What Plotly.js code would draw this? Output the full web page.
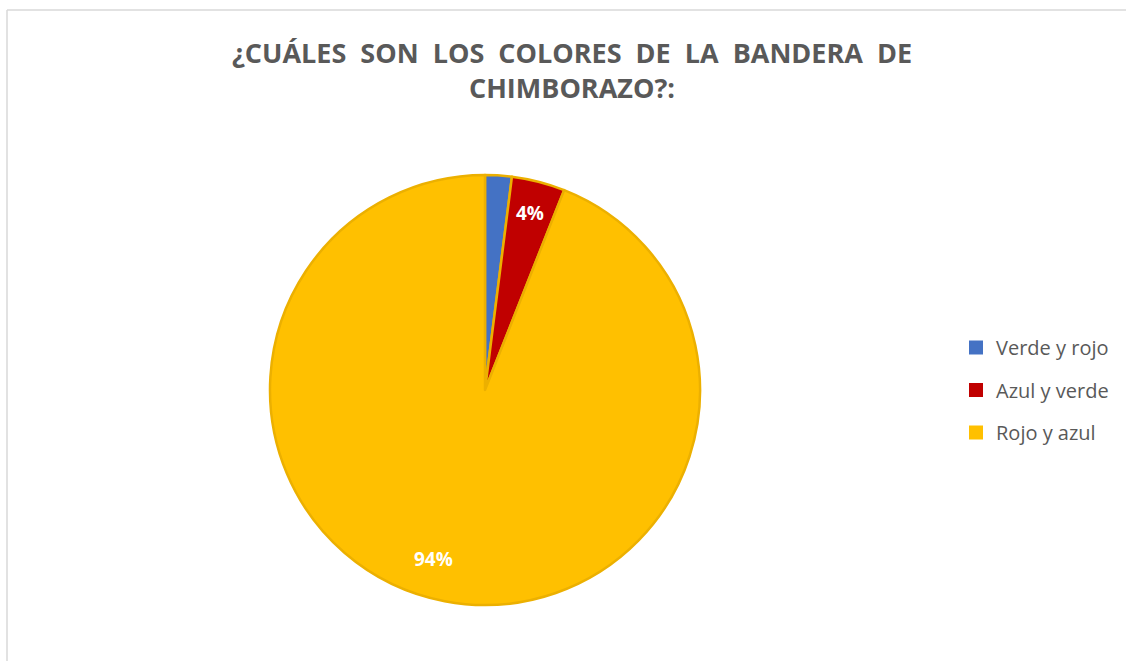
<!DOCTYPE html>
<html>
<head>
<meta charset="utf-8">
<script src="https://cdn.plot.ly/plotly-3.0.1.min.js"></script>
<style>html,body{margin:0;padding:0;background:#fff}#chart{width:1126px;height:661px}</style>
</head>
<body>
<div id="chart"></div>
<script>
const categories = ['Verde y rojo', 'Azul y verde', 'Rojo y azul'];
const values = [2, 4, 94];
const sliceLabels = ['', '4%', '94%'];
const colors = ['#4472C4', '#C00000', '#FFC000'];
const chartTitle = '¿CUÁLES  SON  LOS  COLORES  DE  LA  BANDERA  DE<br>CHIMBORAZO?:';

const W = 1126, H = 661;
const cx = 485, cy = 390, r = 215;
const fontFam = 'Open Sans, Liberation Sans, sans-serif';

const pieTrace = {
  type: 'pie',
  labels: categories,
  values: values,
  sort: false,
  direction: 'clockwise',
  rotation: 0,
  textinfo: 'none',
  marker: {colors: colors, line: {color: '#ECB000', width: 2.5}},
  hoverinfo: 'none',
  showlegend: false,
  domain: {x: [(cx - r) / W, (cx + r) / W], y: [1 - (cy + r) / H, 1 - (cy - r) / H]}
};

// legend entries (one per category, separate groups for spacing)
const legendTraces = categories.map((c, i) => ({
  type: 'scatter', mode: 'markers', x: [null], y: [null],
  name: c, legendgroup: 'g' + i,
  marker: {symbol: 'square', size: 14, color: colors[i]},
  hoverinfo: 'none', showlegend: true
}));

// data labels placed along each slice's bisector
const total = values.reduce((a, b) => a + b, 0);
const annotations = [];
let cum = 0;
values.forEach((v, i) => {
  const mid = (cum + v / 2) / total * 2 * Math.PI;
  cum += v;
  if (!sliceLabels[i]) return;
  const f = i === 2 ? 0.82 : 0.85;
  const shift = i === 2 ? 0.11 : 0;
  const px = cx + Math.sin(mid + shift) * r * f;
  const py = cy - Math.cos(mid + shift) * r * f;
  annotations.push({
    xref: 'paper', yref: 'paper', x: px / W, y: 1 - py / H,
    text: sliceLabels[i], showarrow: false, xanchor: 'center', yanchor: 'middle',
    font: {family: fontFam, size: 19, color: '#ffffff', weight: 'bold'}
  });
});

const layout = {
  width: W, height: H,
  margin: {l: 0, r: 0, t: 0, b: 0},
  paper_bgcolor: '#ffffff',
  plot_bgcolor: 'rgba(0,0,0,0)',
  xaxis: {visible: false, domain: [0.98, 1]},
  yaxis: {visible: false, domain: [0.98, 1]},
  title: {
    text: chartTitle,
    x: 0.508, xanchor: 'center',
    y: 1 - 63 / H, yanchor: 'middle',
    font: {family: fontFam, size: 27, color: '#595959', weight: 'bold'}
  },
  showlegend: true,
  legend: {
    x: 956 / W, xanchor: 'left',
    y: 1 - 328 / H, yanchor: 'top',
    font: {family: fontFam, size: 20, color: '#595959'},
    tracegroupgap: 13.5,
    itemwidth: 30,
    traceorder: 'grouped'
  },
  annotations: annotations,
  shapes: [
    {type: 'line', xref: 'paper', yref: 'paper', x0: 7 / W, x1: 1, y0: 1 - 10 / H, y1: 1 - 10 / H, line: {color: '#D9D9D9', width: 1.5}},
    {type: 'line', xref: 'paper', yref: 'paper', x0: 7 / W, x1: 7 / W, y0: 0, y1: 1 - 10 / H, line: {color: '#D9D9D9', width: 1.5}}
  ]
};

Plotly.newPlot('chart', [pieTrace].concat(legendTraces), layout, {displayModeBar: false, staticPlot: true});
</script>
</body>
</html>
